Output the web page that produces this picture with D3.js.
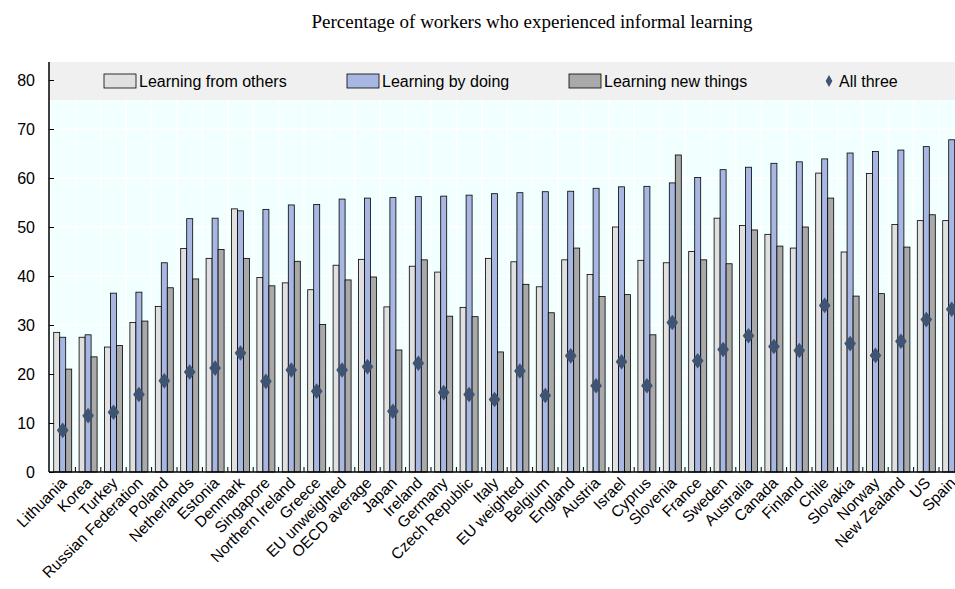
<!DOCTYPE html>
<html><head><meta charset="utf-8">
<script src="https://cdn.jsdelivr.net/npm/d3@7"></script>
<style>body{margin:0;background:#fff;}svg{display:block;}</style>
</head><body>
<script>
const categories = ["Lithuania","Korea","Turkey","Russian Federation","Poland","Netherlands","Estonia","Denmark","Singapore","Northern Ireland","Greece","EU unweighted","OECD average","Japan","Ireland","Germany","Czech Republic","Italy","EU weighted","Belgium","England","Austria","Israel","Cyprus","Slovenia","France","Sweden","Australia","Canada","Finland","Chile","Slovakia","Norway","New Zealand","US","Spain"];
const fromOthers = [28.5,27.5,25.5,30.5,33.8,45.6,43.6,53.7,39.7,38.6,37.2,42.2,43.4,33.7,42.0,40.8,33.6,43.6,42.9,37.8,43.3,40.3,50.0,43.2,42.7,45.0,51.8,50.3,48.5,45.7,61.0,44.9,60.9,50.5,51.3,51.3];
const byDoing = [27.5,28.0,36.5,36.7,42.7,51.7,51.8,53.3,53.6,54.5,54.6,55.7,55.9,56.0,56.2,56.3,56.5,56.8,57.0,57.2,57.3,57.9,58.2,58.3,59.0,60.1,61.7,62.2,63.0,63.3,63.9,65.1,65.4,65.7,66.4,67.8];
const newThings = [21.0,23.5,25.8,30.8,37.6,39.4,45.4,43.6,38.0,43.0,30.1,39.2,39.8,24.9,43.3,31.8,31.7,24.5,38.3,32.5,45.7,35.8,36.2,28.0,64.7,43.3,42.5,49.4,46.1,50.0,55.9,35.9,36.4,45.9,52.5,null];
const allThree = [8.5,11.5,12.2,15.8,18.6,20.4,21.2,24.3,18.5,20.8,16.5,20.8,21.5,12.4,22.2,16.2,15.8,14.8,20.6,15.6,23.7,17.6,22.5,17.6,30.5,22.7,25.0,27.8,25.6,24.8,34.0,26.2,23.8,26.7,31.1,33.2];
const yTicks = [0,10,20,30,40,50,60,70,80];
const seriesNames = ["Learning from others","Learning by doing","Learning new things","All three"];

const W = 955, H = 589;
const svg = d3.select("body").append("svg").attr("width", W).attr("height", H);
const font = "Arial, 'Liberation Sans', sans-serif";

const x = d3.scaleBand().domain(categories).range([50, 50 + categories.length * 25.4]);
const y = d3.scaleLinear().domain([0, 80]).range([472, 80]);

svg.append("text").attr("x", 532).attr("y", 28).attr("text-anchor", "middle")
  .attr("font-family", "'Liberation Serif', 'Times New Roman', serif").attr("font-size", 19)
  .text("Percentage of workers who experienced informal learning");

// plot background
svg.append("rect").attr("x", 49).attr("y", 62).attr("width", W - 49).attr("height", 472 - 62).attr("fill", "#f2ffff");
// gridlines
svg.selectAll(".hg").data(yTicks.slice(1)).join("line")
  .attr("x1", 49).attr("x2", W).attr("y1", d => y(d)).attr("y2", d => y(d))
  .attr("stroke", "#fff").attr("stroke-width", 1.5);
svg.selectAll(".vg").data(categories).join("line")
  .attr("x1", d => x(d)).attr("x2", d => x(d)).attr("y1", 62).attr("y2", 472)
  .attr("stroke", "#fff").attr("stroke-width", 1.5);
// legend band
svg.append("rect").attr("x", 49).attr("y", 62).attr("width", W - 49).attr("height", 38).attr("fill", "#f0f0f0");

const cols = ["#e0e0e0", "#a7b7e2", "#a9a9a9"];
const series = [fromOthers, byDoing, newThings];
const bw = 6;
series.forEach((s, si) => {
  svg.append("g").selectAll("rect").data(categories.map((c, i) => ({c, v: s[i]})).filter(d => d.v != null)).join("rect")
    .attr("x", d => x(d.c) + x.bandwidth() / 2 - 9 + si * bw)
    .attr("y", d => y(d.v)).attr("width", bw).attr("height", d => y(0) - y(d.v))
    .attr("fill", cols[si]).attr("stroke", "#000").attr("stroke-width", 0.8);
});
const diamond = d3.symbol().type(d3.symbolDiamond).size(70);
svg.append("g").selectAll("path").data(categories).join("path")
  .attr("d", diamond)
  .attr("transform", (c, i) => `translate(${x(c) + x.bandwidth() / 2},${y(allThree[i])}) scale(1.3,1)`)
  .attr("fill", "#3f5373");

// axes
const yAxis = svg.append("g").attr("transform", "translate(49,0)")
  .call(d3.axisLeft(y).tickValues(yTicks).tickSize(5).tickFormat(d3.format("d")));
yAxis.select(".domain").attr("d", `M0,62V${y(0)}`).attr("stroke", "#000").attr("stroke-width", 1.5);
yAxis.selectAll(".tick line").attr("x2", 5).attr("x1", 0);
yAxis.selectAll("text").attr("x", -14).attr("font-size", 16).attr("font-family", font).attr("fill", "#000");

const xAxis = svg.append("g").attr("transform", `translate(0,${y(0)})`)
  .call(d3.axisBottom(x).tickSize(0));
xAxis.select(".domain").attr("d", `M49,0H${W}`).attr("stroke", "#000").attr("stroke-width", 1.5);
svg.selectAll(".sep").data(categories.slice(1)).join("line")
  .attr("x1", d => x(d)).attr("x2", d => x(d)).attr("y1", y(0) - 5).attr("y2", y(0)).attr("stroke", "#000");
xAxis.selectAll("text").attr("font-size", 15.5).attr("font-family", font).attr("fill", "#000")
  .attr("text-anchor", "end").attr("dy", 0).attr("y", 0)
  .attr("transform", "translate(5,12) rotate(-45)");

// legend
const lg = [{x: 104, t: seriesNames[0], c: cols[0]}, {x: 347, t: seriesNames[1], c: cols[1]}, {x: 569, t: seriesNames[2], c: cols[2]}];
lg.forEach(l => {
  svg.append("rect").attr("x", l.x).attr("y", 74).attr("width", 32).attr("height", 14)
    .attr("fill", l.c).attr("stroke", "#000").attr("stroke-width", 0.8);
  svg.append("text").attr("x", l.x + 35).attr("y", 87).attr("font-size", 16).attr("font-family", font).text(l.t);
});
svg.append("path").attr("d", d3.symbol().type(d3.symbolDiamond).size(40))
  .attr("transform", "translate(829,81)").attr("fill", "#3f5373");
svg.append("text").attr("x", 839).attr("y", 87).attr("font-size", 16).attr("font-family", font).text(seriesNames[3]);
</script>
</body></html>
